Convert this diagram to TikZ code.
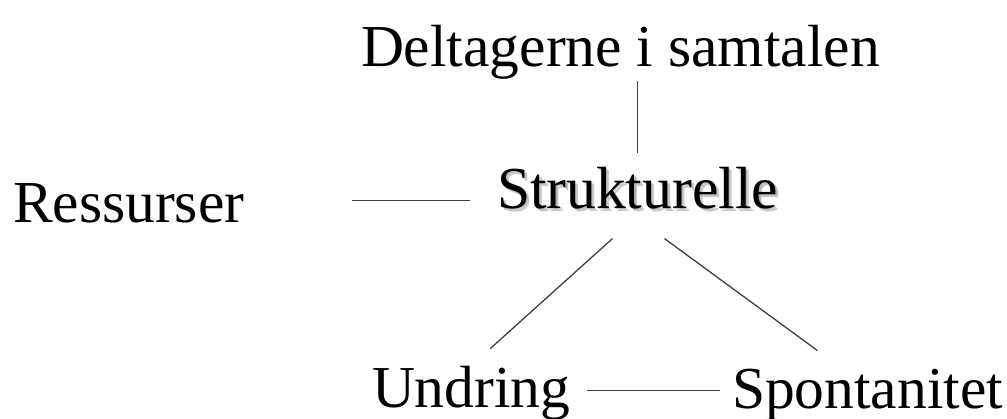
\documentclass[tikz,border=0pt]{standalone}
\usepackage{fontspec}
\setmainfont{Liberation Serif}
\usetikzlibrary{positioning, calc}

\begin{document}
\begin{tikzpicture}[
    x=1pt, y=-1pt,
    word/.style={anchor=base west, inner sep=0pt, outer sep=0pt, font=\fontsize{59.5}{70}\selectfont},
    skygge/.style={word, text=black!45, opacity=0.45},
    link/.style={draw=black!75, line width=1.3pt}
]
    \useasboundingbox (0,0) rectangle (1007,418);

    \node[word] (deltagere) at (361,66) {Deltagerne i samtalen};
    \node[skygge] (skygge1) at (498.5,209.5) {Strukturelle};
    \node[skygge] (skygge2) at (500,211) {Strukturelle};
    \node[word] (strukturelle) at (497,208) {Strukturelle};
    \node[word] (ressurser) at (13,222) {Ressurser};
    \node[word] (undring) at (372,407) {Undring};
    \node[word] (spontanitet) at (732,408) {Spontanitet};

    \draw[link, shorten <=2pt, shorten >=14pt] (deltagere.south -| strukturelle.north) -- (strukturelle.north);
    \draw[link, shorten <=108pt, shorten >=27pt] ([yshift=2pt]ressurser.east) -- ([yshift=2pt]ressurser.east -| strukturelle.west);
    \draw[link] ($(strukturelle.south)+(-25,30)$) -- ($(undring.north)+(19,-17)$);
    \draw[link] ($(strukturelle.south)+(27,30)$) -- ($(spontanitet.north)+(-50,-18)$);
    \draw[link, shorten <=17pt, shorten >=12pt] ([yshift=2pt]undring.east) -- ([yshift=2pt]undring.east -| spontanitet.west);
\end{tikzpicture}
\end{document}
